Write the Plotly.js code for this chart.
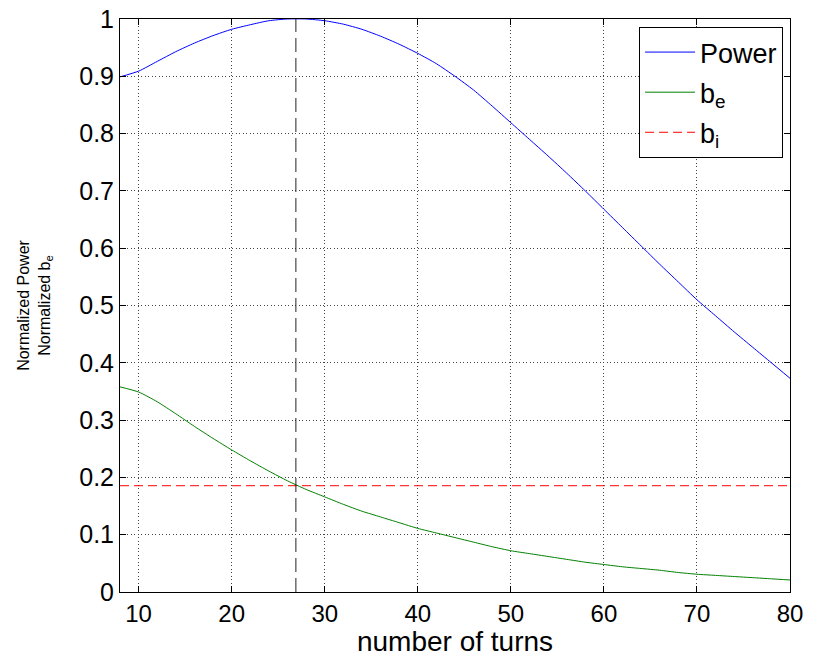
<!DOCTYPE html>
<html>
<head>
<meta charset="utf-8">
<script src="https://cdn.plot.ly/plotly-3.0.1.min.js"></script>
<style>html,body{margin:0;padding:0;background:#fff;}#chart{width:815px;height:657px;}</style>
</head>
<body>
<div id="chart"></div>
<script>
// ---- data ----
var turns = [8,10,12,14,16,18,20,22,24,26,28,30,32,34,36,38,40,42,44,46,48,50,52,54,56,58,60,62,64,66,68,70,72,74,76,78,80];
var power = [0.899,0.909,0.926,0.943,0.958,0.971,0.982,0.990,0.997,1.000,1.000,0.997,0.991,0.982,0.970,0.956,0.940,0.922,0.900,0.876,0.848,0.819,0.790,0.761,0.731,0.700,0.668,0.636,0.604,0.572,0.541,0.510,0.482,0.454,0.427,0.400,0.373];
var be    = [0.358,0.349,0.332,0.311,0.289,0.268,0.248,0.229,0.211,0.194,0.179,0.166,0.153,0.141,0.131,0.121,0.111,0.103,0.095,0.087,0.079,0.072,0.067,0.062,0.057,0.052,0.048,0.044,0.041,0.038,0.034,0.031,0.029,0.027,0.025,0.023,0.021];
var biX = [8, 80];
var biY = [0.1855, 0.1855];
var crossX = [26.9, 26.9];
var crossY = [0, 1];
var xTicks = [10,20,30,40,50,60,70,80];
var yTicks = [0,0.1,0.2,0.3,0.4,0.5,0.6,0.7,0.8,0.9,1];

var FONT = 'Liberation Sans, Arial, Helvetica, sans-serif';

var traces = [
  {x: turns, y: power, type: 'scatter', mode: 'lines', name: 'Power', legendgroup: 'g1',
   line: {color: '#0000ff', width: 1, shape: 'spline', smoothing: 0.6}},
  {x: turns, y: be, type: 'scatter', mode: 'lines', name: 'b<sub>e</sub>', legendgroup: 'g2',
   line: {color: '#008000', width: 1, shape: 'spline', smoothing: 0.6}},
  {x: biX, y: biY, type: 'scatter', mode: 'lines', name: 'b<sub>i</sub>', legendgroup: 'g3',
   line: {color: '#ff0000', width: 1, dash: '9px,5px'}},
  {x: crossX, y: crossY, type: 'scatter', mode: 'lines', showlegend: false,
   line: {color: '#222222', width: 1, dash: '14px,6px'}, hoverinfo: 'skip'}
];

var layout = {
  width: 815, height: 657,
  paper_bgcolor: '#ffffff', plot_bgcolor: '#ffffff',
  margin: {l: 120, r: 25, t: 19, b: 65, pad: 0},
  font: {family: FONT, color: '#000'},
  showlegend: true,
  legend: {x: 0.9896, y: 0.986, xanchor: 'right', yanchor: 'top',
           bgcolor: '#ffffff', bordercolor: '#000', borderwidth: 1,
           font: {size: 27, family: FONT}, tracegroupgap: 2, itemwidth: 50},
  xaxis: {range: [8, 80], tickvals: xTicks, ticktext: xTicks.map(String),
          showline: true, linecolor: '#000', linewidth: 1, mirror: 'ticks',
          ticks: 'inside', ticklen: 6, tickcolor: '#000',
          showgrid: true, gridcolor: '#444', griddash: '1px,2.5px', gridwidth: 1,
          zeroline: false, tickfont: {size: 24, family: FONT},
          title: {text: 'number of turns', font: {size: 28, family: FONT}, standoff: 6}},
  yaxis: {range: [0, 1], tickvals: yTicks, ticktext: yTicks.map(String),
          showline: true, linecolor: '#000', linewidth: 1, mirror: 'ticks',
          ticks: 'inside', ticklen: 6, tickcolor: '#000',
          showgrid: true, gridcolor: '#444', griddash: '1px,2.5px', gridwidth: 1,
          zeroline: false, tickfont: {size: 25, family: FONT},
          title: {text: 'Normalized Power<br>Normalized b<sub>e</sub>', font: {size: 16, family: FONT}, standoff: 24}}
};

Plotly.newPlot('chart', traces, layout, {displayModeBar: false, staticPlot: true});
</script>
</body>
</html>
